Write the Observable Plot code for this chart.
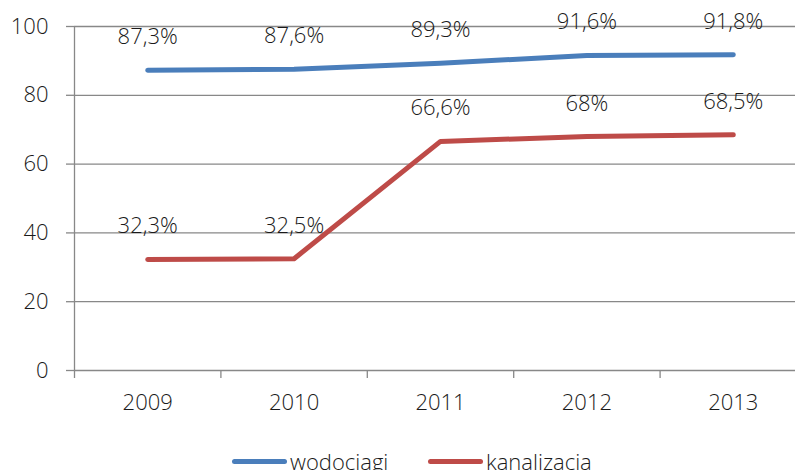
<!DOCTYPE html>
<html>
<head>
<meta charset="utf-8">
<script src="https://cdn.jsdelivr.net/npm/d3@7"></script>
<script src="https://cdn.jsdelivr.net/npm/@observablehq/plot@0.6"></script>
<style>
  body { margin: 0; background: #fff; overflow: hidden; }
  #chart { width: 795px; height: 470px; position: relative; }
  .item { position: absolute; top: 444px; display: flex; align-items: center; height: 34px; white-space: nowrap;
    font-family: "Open Sans", sans-serif; font-weight: 300; font-size: 22px; color: #1a1a1a; }
  .item .sw { width: 55px; height: 5px; border-radius: 3px; margin-right: 3px; }
</style>
</head>
<body>
<div id="chart"></div>
<script>
const years = [2009, 2010, 2011, 2012, 2013];
const wodociagi = [87.3, 87.6, 89.3, 91.6, 91.8];
const kanalizacja = [32.3, 32.5, 66.6, 68, 68.5];
const seriesNames = ["wodociągi", "kanalizacja"];
const colors = ["#4A7EBB", "#BE4B48"];
const yTicks = [0, 20, 40, 60, 80, 100];
const gridTicks = [20, 40, 60, 80, 100];
const bounds = [2008.5, 2009.5, 2010.5, 2011.5, 2012.5, 2013.5];

const data = [];
years.forEach((y, i) => {
  data.push({year: y, value: wodociagi[i], series: seriesNames[0]});
  data.push({year: y, value: kanalizacja[i], series: seriesNames[1]});
});
const fmt = v => String(v).replace(".", ",") + "%";
const font = '"Open Sans", sans-serif';
const textColor = "#1a1a1a";
const gridColor = "#888";

const plot = Plot.plot({
  width: 795,
  height: 440,
  marginLeft: 74,
  marginRight: -11,
  marginTop: 26,
  marginBottom: 70,
  style: {fontFamily: font, fontSize: "22px", fontWeight: 300, color: textColor, background: "#fff"},
  x: {type: "linear", domain: [2008.5, 2013.5], axis: null},
  y: {domain: [0, 100], axis: null},
  color: {domain: seriesNames, range: colors},
  marks: [
    Plot.ruleY(gridTicks, {stroke: gridColor, strokeWidth: 1.3}),
    Plot.ruleY([0], {stroke: gridColor, strokeWidth: 1.3}),
    Plot.ruleX([2008.5], {stroke: gridColor, strokeWidth: 1.3}),
    Plot.axisY({ticks: yTicks, tickSize: 8, tickPadding: 18, stroke: gridColor, strokeWidth: 1.3, strokeOpacity: 1, tickFormat: d => String(d), label: null, fill: textColor, fontSize: 22}),
    Plot.axisX({ticks: bounds, tickSize: 8, tickFormat: () => "", label: null, stroke: gridColor, strokeWidth: 1.3, strokeOpacity: 1}),
    Plot.axisX({ticks: years, tickSize: 0, tickPadding: 24, tickFormat: d => String(d), label: null, fill: textColor, fontSize: 22}),
    Plot.line(data, {x: "year", y: "value", z: "series", stroke: "series", strokeWidth: 5, strokeLinecap: "round", strokeLinejoin: "round"}),
    Plot.text(data, {x: "year", y: "value", text: d => fmt(d.value), dy: -33, fill: textColor, fontSize: 22, fontWeight: 300})
  ]
});
const chart = document.getElementById("chart");
chart.appendChild(plot);

const legendLeft = [232, 428];
seriesNames.forEach((name, i) => {
  const item = document.createElement("div");
  item.className = "item";
  item.style.left = legendLeft[i] + "px";
  const sw = document.createElement("div");
  sw.className = "sw";
  sw.style.background = colors[i];
  const t = document.createElement("span");
  t.textContent = name;
  item.appendChild(sw);
  item.appendChild(t);
  chart.appendChild(item);
});
</script>
</body>
</html>
